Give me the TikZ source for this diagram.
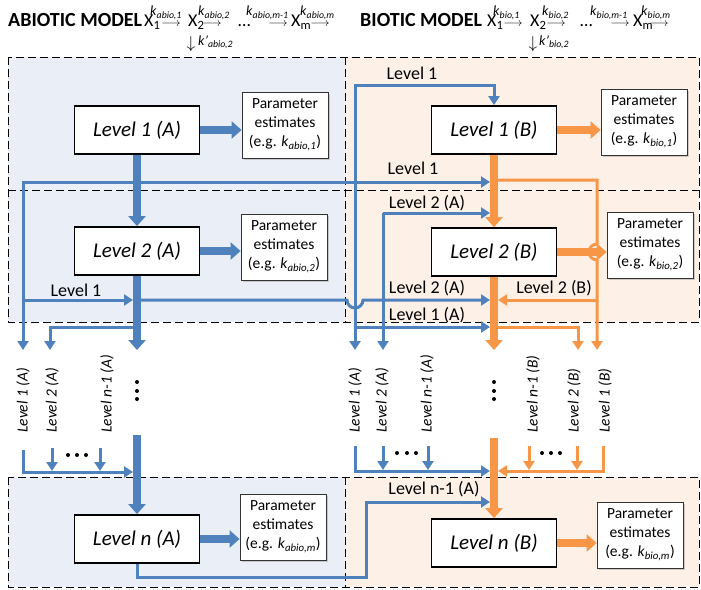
\documentclass[tikz,border=0pt]{standalone}
\usepackage{fontspec}
\setmainfont{Carlito}
\usepackage{amsmath}
\usetikzlibrary{arrows.meta,shadows}

\definecolor{abioblue}{HTML}{4F81BD}
\definecolor{bioorange}{HTML}{F79646}
\definecolor{abiofill}{HTML}{E9EEF7}
\definecolor{biofill}{HTML}{FDF0E7}

\newcommand{\kest}[1]{\textit{k}\textsubscript{\textit{#1}}}

\begin{document}
\begin{tikzpicture}[x=1pt,y=1pt,
    lvlbox/.style={draw=black, line width=1.8pt, fill=white, minimum width=125pt,
        minimum height=48pt, inner sep=0pt, font=\fontsize{21}{24}\selectfont\itshape},
    estbox/.style={draw=black!80, line width=0.8pt, fill=white, align=center,
        minimum width=86pt, minimum height=66pt, inner sep=1pt,
        font=\fontsize{15.5}{19}\selectfont,
        drop shadow={shadow xshift=2pt, shadow yshift=-2pt, opacity=0.35}},
    ablink/.style={abioblue, line width=3pt},
    biolink/.style={bioorange, line width=3pt},
    abspine/.style={abioblue, line width=8pt},
    biospine/.style={bioorange, line width=8pt},
    ar/.style={-{Triangle[length=9pt,width=11pt]}},
    bigar/.style={-{Triangle[length=10pt,width=17pt]}},
    lab/.style={inner sep=0pt, font=\fontsize{18}{20}\selectfont},
    vlab/.style={inner sep=0pt, rotate=90, anchor=west, font=\fontsize{15.5}{18}\selectfont\itshape},
    hx/.style={inner sep=0pt, anchor=base west, font=\fontsize{18}{20}\selectfont},
    hk/.style={inner sep=0pt, anchor=base west, font=\fontsize{14}{15}\selectfont},
    harr/.style={inner sep=0pt, anchor=base, font=\fontsize{13}{14}\selectfont},
    panel/.style={dash pattern=on 8pt off 4pt, line width=0.9pt}]
    \useasboundingbox (0,0) rectangle (701,-589);

    % panels
    \fill [abiofill] (8,-57) rectangle (345,-322);
    \fill [biofill] (345,-57) rectangle (699,-322);
    \fill [abiofill] (8,-477) rectangle (345,-587);
    \fill [biofill] (345,-477) rectangle (699,-587);
    \draw [panel] (8,-57) rectangle (699,-322);
    \draw [panel] (8,-190) -- (699,-190);
    \draw [panel] (345,-57) -- (345,-322);
    \draw [panel] (8,-477) rectangle (699,-587);
    \draw [panel] (345,-477) -- (345,-587);

    % headers
    \node [hx, font=\fontsize{20}{22}\selectfont\bfseries] (habio) at (8,-27) {ABIOTIC MODEL};
    \node [hx] (ax1) at (144,-27) {X\textsubscript{1}};
    \node [hk] (ak1) at (150,-16) {\kest{abio,1}};
    \node [harr] (aa1) at (171,-27) {$\longrightarrow$};
    \node [hx] (ax2) at (188,-27) {X\textsubscript{2}};
    \node [hk] (ak2) at (198,-16) {\kest{abio,2}};
    \node [harr] (aa2) at (212,-27) {$\longrightarrow$};
    \node [harr, font=\fontsize{17}{18}\selectfont] (ad2) at (191,-48) {$\downarrow$};
    \node [hk] (akd) at (198,-45) {\textit{k'}\textsubscript{\textit{abio,2}}};
    \node [hx] (adots) at (238,-27) {\dots};
    \node [hk] (ak3) at (246,-16) {\kest{abio,m-1}};
    \node [harr] (aa3) at (278,-27) {$\longrightarrow$};
    \node [hx] (axm) at (291,-27) {X\textsubscript{m}};
    \node [hk] (ak4) at (300,-16) {\kest{abio,m}};
    \node [harr] (aa4) at (320,-27) {$\longrightarrow$};

    \node [hx, font=\fontsize{20}{22}\selectfont\bfseries] (hbio) at (360,-27) {BIOTIC MODEL};
    \node [hx] (bx1) at (487,-27) {X\textsubscript{1}};
    \node [hk] (bk1) at (493,-16) {\kest{bio,1}};
    \node [harr] (ba1) at (513,-27) {$\longrightarrow$};
    \node [hx] (bx2) at (530,-27) {X\textsubscript{2}};
    \node [hk] (bk2) at (542,-16) {\kest{bio,2}};
    \node [harr] (ba2) at (556,-27) {$\longrightarrow$};
    \node [harr, font=\fontsize{17}{18}\selectfont] (bd2) at (533,-48) {$\downarrow$};
    \node [hk] (bkd) at (539,-45) {\textit{k'}\textsubscript{\textit{bio,2}}};
    \node [hx] (bdots) at (580,-27) {\dots};
    \node [hk] (bk3) at (590,-16) {\kest{bio,m-1}};
    \node [harr] (ba3) at (620,-27) {$\longrightarrow$};
    \node [hx] (bxm) at (633,-27) {X\textsubscript{m}};
    \node [hk] (bk4) at (641,-16) {\kest{bio,m}};
    \node [harr] (ba4) at (659,-27) {$\longrightarrow$};

    % level boxes and estimates
    \node [lvlbox] (L1A) at (137,-130) {Level 1 (A)};
    \node [lvlbox] (L2A) at (137,-251) {Level 2 (A)};
    \node [lvlbox] (LnA) at (137,-539) {Level n (A)};
    \node [lvlbox] (L1B) at (494,-130) {Level 1 (B)};
    \node [lvlbox] (L2B) at (494,-252) {Level 2 (B)};
    \node [lvlbox] (LnB) at (494,-543) {Level n (B)};
    \node [estbox] (P1A) at (285,-125) {Parameter\\estimates\\(e.g. \kest{abio,1})};
    \node [estbox] (P2A) at (284,-247) {Parameter\\estimates\\(e.g. \kest{abio,2})};
    \node [estbox] (PnA) at (283,-527) {Parameter\\estimates\\(e.g. \kest{abio,m})};
    \node [estbox] (P1B) at (644,-122) {Parameter\\estimates\\(e.g. \kest{bio,1})};
    \node [estbox] (P2B) at (650,-245) {Parameter\\estimates\\(e.g. \kest{bio,2})};
    \node [estbox] (PnB) at (640,-535) {Parameter\\estimates\\(e.g. \kest{bio,m})};

    % junctions and free ends
    \coordinate (aJ1) at (137,-182);
    \coordinate (aC1) at (23,-182);
    \coordinate (aJ2) at (23,-300);
    \coordinate (aE1) at (23,-350);
    \coordinate (aJ3) at (137,-300);
    \coordinate (aJ4) at (137,-327);
    \coordinate (aE2) at (50,-350);
    \coordinate (aEnd) at (137,-350);
    \coordinate (aRes) at (137,-435);
    \coordinate (aB1) at (23,-450);
    \coordinate (aB2) at (52,-448);
    \coordinate (aB3) at (100,-448);
    \coordinate (aBL) at (23,-472);
    \coordinate (aN1) at (137,-577);
    \coordinate (aN2) at (366,-502);
    \coordinate (bJ1) at (355,-182);
    \coordinate (bC1) at (355,-85);
    \coordinate (bE1) at (355,-350);
    \coordinate (bC2) at (383,-213);
    \coordinate (bE2) at (383,-350);
    \coordinate (bJ3) at (355,-327);
    \coordinate (bB1) at (355,-446);
    \coordinate (bB2) at (383,-446);
    \coordinate (bB3) at (428,-446);
    \coordinate (bBL) at (355,-471);
    \coordinate (oJ1) at (494,-180);
    \coordinate (oC1) at (597,-180);
    \coordinate (oJ2) at (597,-300);
    \coordinate (oE1) at (597,-350);
    \coordinate (oJ4) at (494,-327);
    \coordinate (oE2) at (578,-350);
    \coordinate (oEnd) at (494,-350);
    \coordinate (oRes) at (494,-438);
    \coordinate (oB1) at (603,-446);
    \coordinate (oB2) at (577,-446);
    \coordinate (oB3) at (529,-446);
    \coordinate (oBL) at (603,-471);

    % abiotic side links
    \draw [ablink] (aJ1) -- (aC1) -- (aJ2);
    \draw [ablink, ar] (aJ2) -- (aE1);
    \draw [ablink, ar, shorten >=4pt] (aJ2) -- (aJ3);
    \draw [ablink, ar] (aJ4) -- (aJ4 -| aE2) -- (aE2);
    \draw [ablink, ar, shorten >=4pt] (aB1) -- (aBL) -- (aBL -| aRes);
    \draw [ablink, ar, shorten >=1pt] (aB2) -- (aB2 |- aBL);
    \draw [ablink, ar, shorten >=1pt] (aB3) -- (aB3 |- aBL);
    \draw [ablink, ar, shorten >=4pt] (LnA.south) -- (aN1) -- (aN1 -| aN2) -- (aN2) -- (aN2 -| oRes);

    % links into the biotic side
    \draw [ablink, ar, shorten >=4pt] (aJ1) -- (aJ1 -| oEnd);
    \draw [ablink, ar] (bJ1) -- (bC1) -- (bC1 -| L1B) -- (L1B.north);
    \draw [ablink, ar] (bJ1) -- (bE1);
    \draw [ablink, ar, shorten >=4pt] (bC2) -- (bC2 -| oEnd);
    \draw [ablink, ar] (bC2) -- (bE2);
    \draw [ablink, ar, shorten >=4pt] (aJ3) -- (347,-300) arc (180:360:8) -- (aJ3 -| oEnd);
    \draw [ablink, ar, shorten >=4pt] (bJ3) -- (bJ3 -| oEnd);
    \draw [ablink, ar, shorten >=4pt] (bB1) -- (bBL) -- (bBL -| oRes);
    \draw [ablink, ar, shorten >=1pt] (bB2) -- (bB2 |- bBL);
    \draw [ablink, ar, shorten >=1pt] (bB3) -- (bB3 |- bBL);

    % biotic side links
    \draw [biolink, ar] (oJ1) -- (oC1) -- (597,-244) arc (90:270:8) -- (oE1);
    \draw [biolink, ar, shorten >=4pt] (oJ2) -- (oJ2 -| oEnd);
    \draw [biolink, ar] (oJ4) -- (oJ4 -| oE2) -- (oE2);
    \draw [biolink, ar, shorten >=4pt] (oB1) -- (oBL) -- (oBL -| oRes);
    \draw [biolink, ar, shorten >=1pt] (oB2) -- (oB2 |- oBL);
    \draw [biolink, ar, shorten >=1pt] (oB3) -- (oB3 |- oBL);

    % spines and estimate arrows
    \draw [abspine, bigar] (L1A.south) -- (L2A.north);
    \draw [abspine, bigar] (L2A.south) -- (aEnd);
    \draw [abspine, bigar] (aRes) -- (LnA.north);
    \draw [biospine, bigar] (L1B.south) -- (L2B.north);
    \draw [biospine, bigar] (L2B.south) -- (oEnd);
    \draw [biospine, bigar] (oRes) -- (LnB.north);
    \draw [abspine, bigar] (L1A.east) -- (L1A.east -| P1A.west);
    \draw [abspine, bigar] (L2A.east) -- (L2A.east -| P2A.west);
    \draw [abspine, bigar] (LnA.east) -- (LnA.east -| PnA.west);
    \draw [biospine, bigar] (L1B.east) -- (L1B.east -| P1B.west);
    \draw [biospine, bigar] (L2B.east) -- (L2B.east -| P2B.west);
    \draw [biospine, bigar] (LnB.east) -- (LnB.east -| PnB.west);

    % dots
    \foreach \y in {382,391,399} {
        \fill (137,-\y) circle (2);
        \fill (494,-\y) circle (2);
    }
    \foreach \x in {68,77,86} \fill (\x,-455) circle (2);
    \foreach \x in {397,407,416,542,551,560} \fill (\x,-453) circle (2);

    % line labels
    \node [lab] (tA) at (412,-73) {Level 1};
    \node [lab] (tB) at (413,-168) {Level 1};
    \node [lab] (tC) at (76,-290) {Level 1};
    \node [lab] (tD) at (427,-203) {Level 2 (A)};
    \node [lab] (tE) at (427,-288) {Level 2 (A)};
    \node [lab] (tF) at (554,-288) {Level 2 (B)};
    \node [lab] (tG) at (427,-315) {Level 1 (A)};
    \node [lab] (tH) at (434,-489) {Level n-1 (A)};

    % vertical labels
    \node [vlab] (vA1) at (23,-433) {Level 1 (A)};
    \node [vlab] (vA2) at (52,-433) {Level 2 (A)};
    \node [vlab] (vA3) at (107,-433) {Level n-1 (A)};
    \node [vlab] (vB1) at (355,-433) {Level 1 (A)};
    \node [vlab] (vB2) at (382,-433) {Level 2 (A)};
    \node [vlab] (vB3) at (427,-433) {Level n-1 (A)};
    \node [vlab] (vB4) at (533,-433) {Level n-1 (B)};
    \node [vlab] (vB5) at (574,-433) {Level 2 (B)};
    \node [vlab] (vB6) at (605,-433) {Level 1 (B)};
\end{tikzpicture}
\end{document}
